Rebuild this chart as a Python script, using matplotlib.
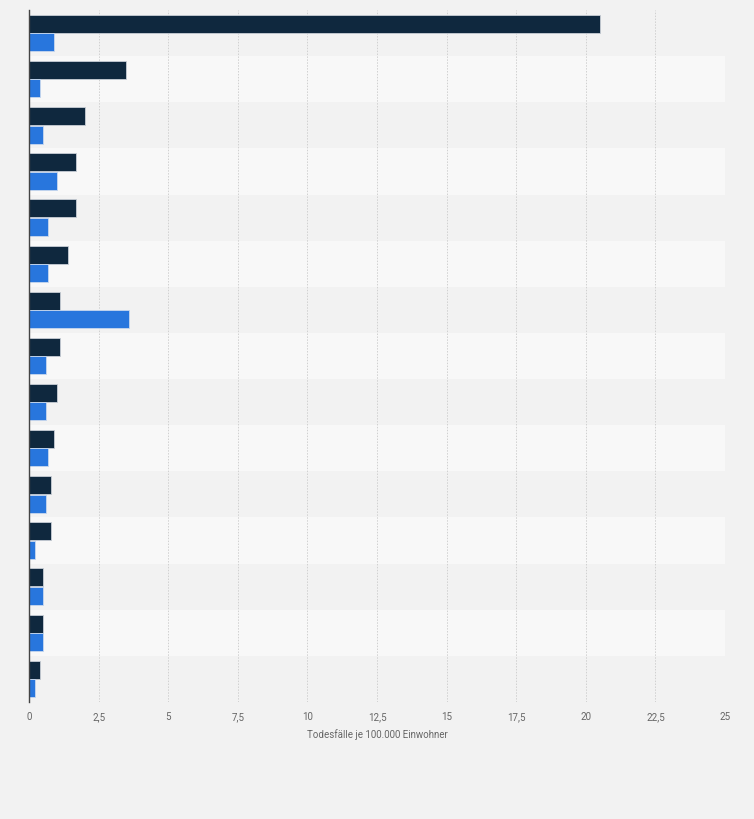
import matplotlib
matplotlib.use("Agg")
import matplotlib.pyplot as plt
import numpy as np

# Data (category labels are not shown in the reference)
categories = [f"Kategorie {i+1}" for i in range(15)]
series_dark = [20.5, 3.5, 2.0, 1.7, 1.7, 1.4, 1.1, 1.1, 1.0, 0.9, 0.8, 0.8, 0.5, 0.5, 0.4]
series_blue = [0.9, 0.4, 0.5, 1.0, 0.7, 0.7, 3.6, 0.6, 0.6, 0.7, 0.6, 0.2, 0.5, 0.5, 0.2]
xticks = [0, 2.5, 5, 7.5, 10, 12.5, 15, 17.5, 20, 22.5, 25]
xtick_labels = ["0", "2,5", "5", "7,5", "10", "12,5", "15", "17,5", "20", "22,5", "25"]
xlabel = "Todesfälle je 100.000 Einwohner"

plt.rcParams['font.family'] = ['Roboto', 'DejaVu Sans']

fig = plt.figure(figsize=(7.54, 8.19), dpi=100)
fig.patch.set_facecolor('#f2f2f2')
ax = fig.add_axes([29/754, 1 - 702/819, (725-29)/754, (702-10)/819])
ax.set_facecolor('#f8f8f8')

n = len(categories)
y = np.arange(n)
for i in range(n):
    if i % 2 == 0:
        ax.axhspan(i - 0.5, i + 0.5, color='#f2f2f2', lw=0, zorder=0)

h = 0.39
ax.barh(y - 0.2, series_dark, height=h, color='#0f283e', edgecolor='#c8ced6', linewidth=0.6, zorder=3)
ax.barh(y + 0.2, series_blue, height=h, color='#2876dd', edgecolor='#c8d8ee', linewidth=0.6, zorder=3)

ax.set_ylim(n - 0.5, -0.5)
ax.set_xlim(0, 25)
ax.set_yticks([])
ax.set_xticks(xticks)
ax.set_xticklabels(xtick_labels, color='#666666', fontsize=7)
ax.tick_params(axis='x', length=0, pad=7)
ax.grid(axis='x', color='#d0d0d0', linestyle=(0, (1.5, 1.5)), linewidth=0.7, zorder=1)
ax.set_axisbelow(True)
for s in ['top', 'right', 'bottom']:
    ax.spines[s].set_visible(False)
ax.spines['left'].set_color('#444444')
ax.spines['left'].set_linewidth(1.0)
ax.spines['left'].set_zorder(4)
ax.set_xlabel(xlabel, color='#666666', fontsize=7, labelpad=5)

fig.savefig('out.png', dpi=100, facecolor=fig.get_facecolor())
